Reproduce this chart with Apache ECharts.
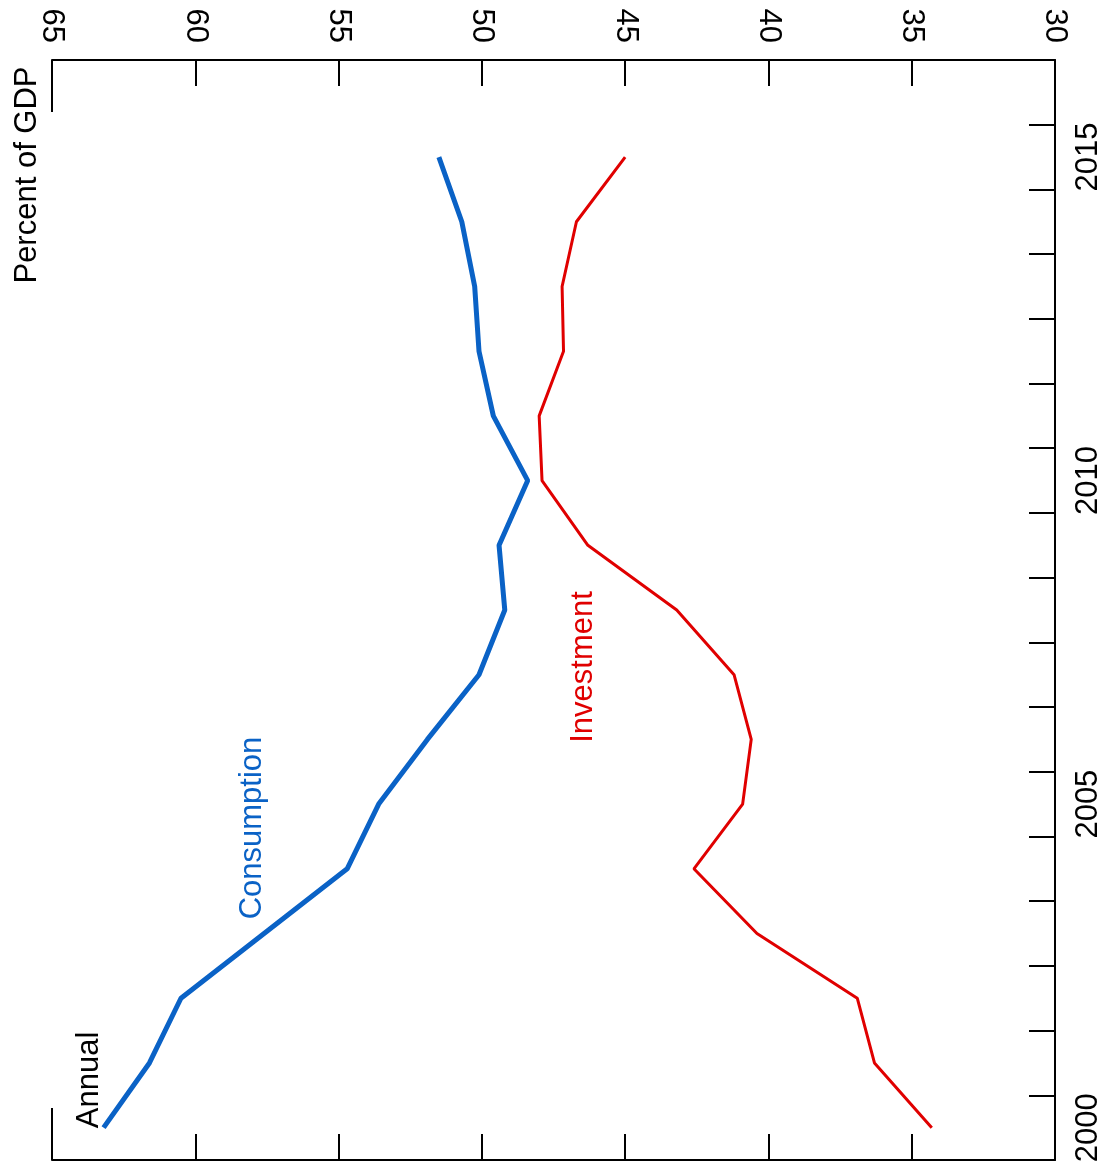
<!DOCTYPE html>
<html>
<head>
<meta charset="utf-8">
<script src="https://cdn.jsdelivr.net/npm/echarts@6/dist/echarts.min.js"></script>
<style>
  html, body { margin: 0; padding: 0; background: #fff; }
  #chart { width: 1104px; height: 1170px; }
</style>
</head>
<body>
<div id="chart"></div>
<script>
// Year bands (last band is empty, axis runs to the end of 2016)
const years = ['2000','2001','2002','2003','2004','2005','2006','2007','2008','2009','2010','2011','2012','2013','2014','2015','2016'];
const yearLabels = ['2000','2005','2010','2015'];
// Percent of GDP
const consumption = [63.2, 61.6, 60.5, 57.6, 54.7, 53.6, 51.9, 50.1, 49.2, 49.4, 48.4, 49.6, 50.1, 50.25, 50.7, 51.5];
const investment  = [34.3, 36.3, 36.9, 40.4, 42.6, 40.9, 40.6, 41.2, 43.2, 46.3, 47.9, 48.0, 47.15, 47.2, 46.7, 45.0];
const pctMin = 30, pctMax = 65, pctStep = 5;

const FONT = '"Liberation Sans", Arial, sans-serif';
const BLUE = '#0a62c6';
const RED = '#e00000';

const chart = echarts.init(document.getElementById('chart'), null, { renderer: 'canvas' });

const frameLine = { show: true, lineStyle: { color: '#000', width: 2 } };
const tickStyle = { color: '#000', width: 2 };

function pctAxis(pos, withLabels, interval, tickLen, showLine) {
  return {
    type: 'value', position: pos, inverse: true,
    min: pctMin, max: pctMax, interval: interval,
    axisLine: showLine ? frameLine : { show: false },
    axisTick: { show: true, inside: true, length: tickLen, lineStyle: tickStyle },
    axisLabel: withLabels ? { show: true, rotate: 90, margin: 17, fontSize: 31, color: '#000', fontFamily: FONT } : { show: false },
    splitLine: { show: false }
  };
}

function rotText(text, cx, cy, color) {
  return {
    type: 'text', x: cx, y: cy, rotation: Math.PI / 2,
    style: { text: text, fill: color, font: '31px ' + FONT, align: 'center', verticalAlign: 'middle' },
    z: 10
  };
}

chart.setOption({
  animation: false,
  backgroundColor: '#fff',
  grid: { left: 52, right: 48, top: 60, bottom: 10, containLabel: false },
  xAxis: [
    pctAxis('top', true, pctStep, 26, true),
    pctAxis('bottom', false, pctStep, 26, true),
    pctAxis('top', false, pctMax - pctMin, 52, false),
    pctAxis('bottom', false, pctMax - pctMin, 52, false)
  ],
  yAxis: [{
    type: 'category', data: years, position: 'right', boundaryGap: true,
    axisLine: frameLine,
    axisTick: { show: true, inside: true, length: 26, interval: 0, alignWithLabel: false, lineStyle: tickStyle },
    axisLabel: {
      show: true, rotate: 90, margin: 18, fontSize: 31, color: '#000', fontFamily: FONT,
      interval: function (idx, val) { return yearLabels.indexOf(val) >= 0; }
    },
    splitLine: { show: false }
  }],
  series: [
    {
      name: 'Consumption', type: 'line', xAxisIndex: 0, yAxisIndex: 0,
      data: consumption, symbol: 'none', lineStyle: { color: BLUE, width: 5 }, z: 3
    },
    {
      name: 'Investment', type: 'line', xAxisIndex: 0, yAxisIndex: 0,
      data: investment, symbol: 'none', lineStyle: { color: RED, width: 3 }, z: 2
    }
  ],
  graphic: [
    rotText('Percent of GDP', 27, 175, '#000'),
    rotText('Annual', 89, 1080, '#000'),
    rotText('Consumption', 252, 828, BLUE),
    rotText('Investment', 583, 667, RED)
  ]
});
</script>
</body>
</html>
